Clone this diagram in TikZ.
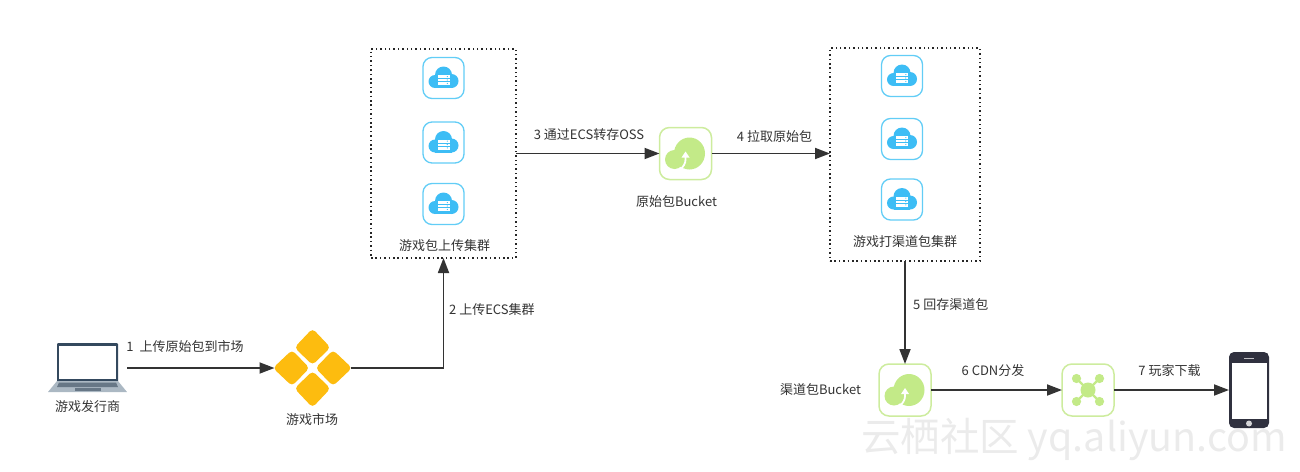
\documentclass[tikz,border=0pt]{standalone}
\usepackage{fontspec}
\setmainfont{Noto Sans CJK SC}
\usetikzlibrary{arrows.meta}
\definecolor{cloudblue}{HTML}{3DBDF5}
\definecolor{tileblue}{HTML}{62CDF6}
\definecolor{leafgreen}{HTML}{C3EA88}
\definecolor{tilegreen}{HTML}{CDEC9E}
\definecolor{marketyellow}{HTML}{FDBC0F}
\definecolor{phonedark}{HTML}{30313F}
\definecolor{laptopframe}{HTML}{34495E}
\definecolor{laptopbase}{HTML}{ABB8C3}
\definecolor{inkgray}{HTML}{333333}
\tikzset{
  txt/.style={inner sep=0pt,text=inkgray,font=\fontsize{13pt}{15pt}\selectfont},
  flow/.style={draw=inkgray,line width=1.8pt,-{Triangle[length=15pt,width=11pt]}},
  clusterbox/.style={draw=black!85,line width=1.5pt,dash pattern=on 1.5pt off 2.9pt,inner sep=0pt,outer sep=0pt},
  bluetile/.style={draw=tileblue,line width=1.3pt,fill=white,rounded corners=9pt,minimum size=41pt,inner sep=0pt,outer sep=0pt},
  greentile/.style={draw=tilegreen,line width=1.5pt,fill=white,rounded corners=10pt,minimum size=52pt,inner sep=0pt,outer sep=0pt},
  blank/.style={inner sep=0pt,outer sep=0pt},
  servercloud/.pic={
    \fill[cloudblue] (0,-3) circle (8.5pt);
    \fill[cloudblue] (-8.5,3.5) circle (6.5pt);
    \fill[cloudblue] (8,3) circle (7pt);
    \fill[cloudblue] (-8.5,0) rectangle (8,10);
    \fill[white] (-6,-3) rectangle (6,7);
    \draw[cloudblue,line width=.6pt] (-6,.3) -- (6,.3) (-6,3.7) -- (6,3.7);
    \fill[cloudblue] (3.8,-1.4) circle (.6pt) (3.8,2) circle (.6pt) (3.8,5.4) circle (.6pt);
  },
  uploadcloud/.pic={
    \fill[leafgreen] (4,0) ellipse (15.5pt and 16pt);
    \fill[leafgreen] (-11,6) circle (9.5pt);
    \draw[white,line width=1.8pt] (0,1) -- (0,6) .. controls (0,10) and (-2,13) .. (-6,17);
    \fill[white] (0,-2) -- (4,4) -- (-4,4) -- cycle;
  },
  cdnnet/.pic={
    \draw[leafgreen,line width=2.4pt] (-11,-11) -- (11,11) (11,-11) -- (-11,11);
    \fill[leafgreen] (0,0) circle (7.5pt);
    \foreach \sx in {-1,1} \foreach \sy in {-1,1}
      \fill[leafgreen] (\sx*11.5,\sy*11.5) circle (4.6pt);
  },
  marketmark/.pic={
    \fill[marketyellow,rounded corners=4pt]
      (0,-39.5) -- (18,-20.5) -- (0,-3) -- (-18,-20.5) -- cycle
      (0,3) -- (18,20.5) -- (0,39.5) -- (-18,20.5) -- cycle
      (-39.5,0) -- (-20.5,-18) -- (-3,0) -- (-20.5,18) -- cycle
      (39.5,0) -- (20.5,-18) -- (3,0) -- (20.5,18) -- cycle;
  },
  laptopmark/.pic={
    \fill[laptopframe,rounded corners=1pt] (-30,-25) rectangle (31,14);
    \fill[white] (-28,-22) rectangle (29,11);
    \fill[laptopbase] (-30,13) -- (31,13) -- (40,24) -- (-39,24) -- cycle;
    \fill[laptopframe!75] (-28,14.5) -- (29,14.5) -- (31,19) -- (-30,19) -- cycle;
    \fill[laptopframe!75] (-12,20) rectangle (14,23);
  },
  phonemark/.pic={
    \fill[phonedark,rounded corners=5pt] (-20,-38) rectangle (20,38);
    \fill[white] (-17.5,-27) rectangle (17.5,29);
    \draw[white!70!phonedark,line width=.8pt] (-5,-32) -- (5,-32);
    \fill[white!80!phonedark] (0,33.5) circle (3pt);
  }
}
\begin{document}
\begin{tikzpicture}[x=1pt,y=-1pt]
\useasboundingbox (0,0) rectangle (1300,471);
\node[blank,text=black!8,font=\fontsize{39.5pt}{42pt}\selectfont] (mark) at (1074,439) {云栖社区 yq.aliyun.com};

% upload cluster
\node[clusterbox,minimum width=145pt,minimum height=209pt] (upbox) at (443.5,153.5) {};
\foreach \nm/\ypos in {upa/78,upb/142.5,upc/204}{
  \node[bluetile] (\nm) at (443.5,\ypos) {};
  \pic at (\nm) {servercloud};
}
\node[txt] (uptext) at (444.5,245.5) {游戏包上传集群};

% channel cluster
\node[clusterbox,minimum width=150pt,minimum height=213pt] (chbox) at (905,154.5) {};
\foreach \nm/\ypos in {cha/76,chb/139,chc/199.5}{
  \node[bluetile] (\nm) at (902,\ypos) {};
  \pic at (\nm) {servercloud};
}
\node[txt] (chtext) at (905,241.5) {游戏打渠道包集群};

\node[blank,minimum width=80pt,minimum height=50pt] (laptop) at (87,368) {};
\pic at (laptop) {laptopmark};
\node[txt] (laptoptext) at (87.5,407) {游戏发行商};

\node[blank,minimum size=76pt] (market) at (312.5,368) {};
\pic at (market) {marketmark};
\node[txt] (markettext) at (312,420) {游戏市场};

\node[greentile] (rawbucket) at (685.5,153.5) {};
\pic at (rawbucket) {uploadcloud};
\node[txt] (rawtext) at (676.5,201.5) {原始包Bucket};

\node[greentile] (pkgbucket) at (905,390) {};
\pic at (pkgbucket) {uploadcloud};
\node[txt] (pkgtext) at (820.5,390) {渠道包Bucket};

\node[greentile] (cdn) at (1088,390) {};
\pic at (cdn) {cdnnet};

\node[blank,minimum width=40pt,minimum height=76pt] (phone) at (1249,390) {};
\pic at (phone) {phonemark};

% arrows
\draw[flow] (laptop.east) -- (market.west);
\draw[flow] (market.east) -| (upbox.south);
\draw[flow] (upbox.east) -- (rawbucket.west);
\draw[flow] (rawbucket.east) -- (rawbucket.east -| chbox.west);
\draw[flow] (chbox.south) -- (pkgbucket.north);
\draw[flow] (pkgbucket.east) -- (cdn.west);
\draw[flow] (cdn.east) -- (phone.west);

\node[txt] (stepa) at (185,347) {1~~上传原始包到市场};
\node[txt,anchor=west] (stepb) at (449,309.5) {2~上传ECS集群};
\node[txt] (stepc) at (589,135) {3~通过ECS转存OSS};
\node[txt] (stepd) at (774.5,137) {4~拉取原始包};
\node[txt,anchor=west] (stepe) at (913,305) {5~回存渠道包};
\node[txt] (stepf) at (993,371) {6~CDN分发};
\node[txt] (stepg) at (1169.5,371) {7~玩家下载};
\end{tikzpicture}
\end{document}
